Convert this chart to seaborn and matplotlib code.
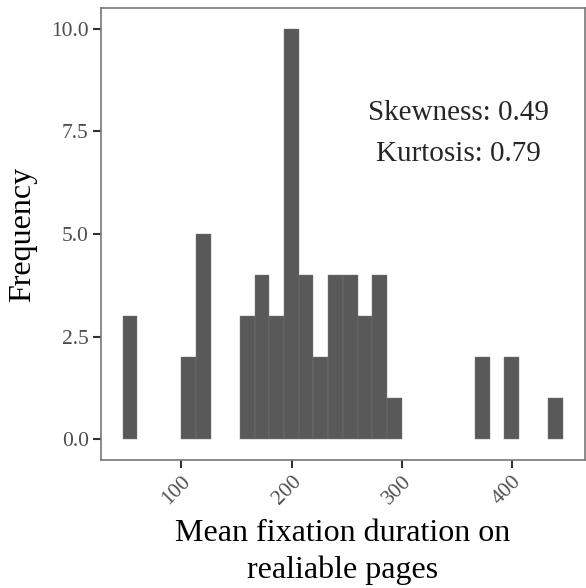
import numpy as np
import pandas as pd
import matplotlib
matplotlib.use("Agg")
import matplotlib.pyplot as plt
import seaborn as sns

# Histogram data (30 bins)
bin_start = 46.7
bin_width = 13.32
counts = [3, 0, 0, 0, 2, 5, 0, 0, 3, 4, 3, 10, 4, 2, 4, 4, 3, 4, 1,
          0, 0, 0, 0, 0, 2, 0, 2, 0, 0, 1]
x_ticks = [100, 200, 300, 400]
y_ticks = [0.0, 2.5, 5.0, 7.5, 10.0]
annot = ["Skewness: 0.49", "Kurtosis: 0.79"]
xlabel = "Mean fixation duration on\nrealiable pages"
ylabel = "Frequency"

edges = bin_start + bin_width * np.arange(len(counts) + 1)
centers = (edges[:-1] + edges[1:]) / 2
df = pd.DataFrame({"x": centers, "w": counts})

sns.set_style("white")
plt.rcParams["font.family"] = ["Liberation Serif", "DejaVu Serif"]
plt.rcParams.update({
    "xtick.bottom": True, "ytick.left": True,
    "xtick.major.size": 5.5, "ytick.major.size": 5.5,
    "xtick.major.width": 1.5, "ytick.major.width": 1.5,
    "xtick.color": "#333333", "ytick.color": "#333333",
    "xtick.direction": "out", "ytick.direction": "out",
})

fig = plt.figure(figsize=(5.86, 5.88), dpi=100)
ax = fig.add_axes([0.1718, 0.2177, 0.8265, 0.7687])

sns.histplot(data=df, x="x", weights="w", bins=[float(e) for e in edges], ax=ax,
             color="#595959", alpha=1, edgecolor="#7a7a7a", linewidth=0.3)
for p in list(ax.patches):
    if p.get_height() == 0:
        p.remove()

rng = edges[-1] - edges[0]
ax.set_xlim(edges[0] - 0.05 * rng, edges[0] + 1.05 * rng)
ax.set_ylim(-0.5, 10.5)
ax.set_xticks(x_ticks)
ax.set_xticklabels([str(t) for t in x_ticks], rotation=45, ha="right",
                   rotation_mode="anchor")
ax.set_yticks(y_ticks)
ax.set_yticklabels([f"{t:.1f}" for t in y_ticks])
ax.tick_params(axis="both", labelsize=15.5, labelcolor="#4D4D4D",
               color="#333333", length=5.5, width=1.5, direction="out",
               bottom=True, left=True, pad=3)
ax.set_xlabel(xlabel, fontsize=23, color="black", labelpad=8, linespacing=1.3)
ax.set_ylabel(ylabel, fontsize=23, color="black", labelpad=10)
for s in ax.spines.values():
    s.set_color("#777777")
    s.set_linewidth(1.2)

ax.text(0.738, 0.768, annot[0], transform=ax.transAxes, ha="center",
        va="center", fontsize=21)
ax.text(0.738, 0.678, annot[1], transform=ax.transAxes, ha="center",
        va="center", fontsize=21)

fig.savefig("out.png", dpi=100)
